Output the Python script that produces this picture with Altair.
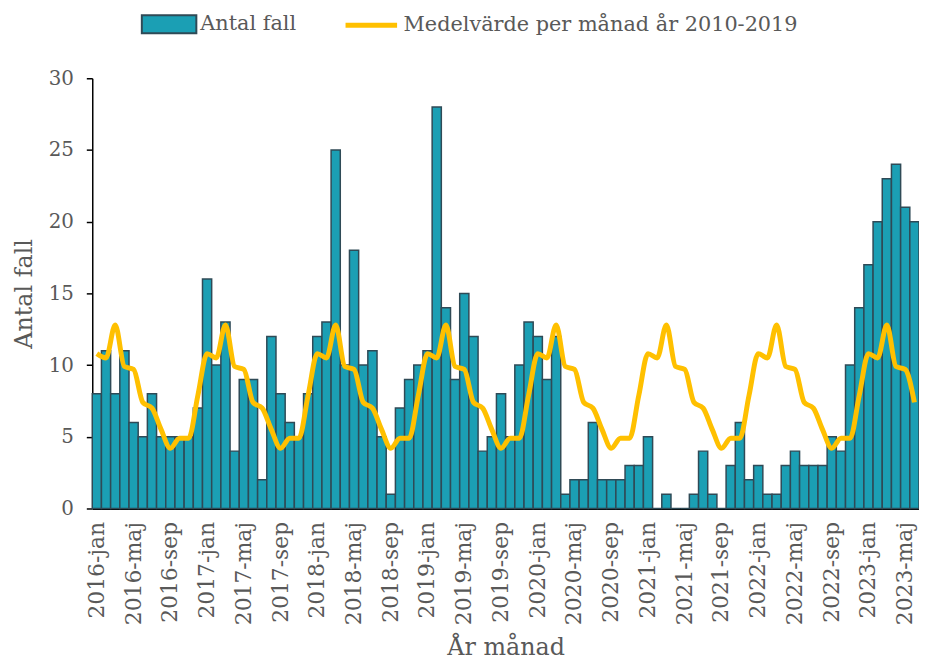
import altair as alt
import pandas as pd

years = [2016, 2017, 2018, 2019, 2020, 2021, 2022, 2023]
month_names = ["jan", "feb", "mar", "apr", "maj", "jun", "jul", "aug", "sep", "okt", "nov", "dec"]

cases = [
    8, 11, 8, 11, 6, 5, 8, 5, 5, 5, 5, 7,          # 2016
    16, 10, 13, 4, 9, 9, 2, 12, 8, 6, 5, 8,        # 2017
    12, 13, 25, 10, 18, 10, 11, 5, 1, 7, 9, 10,    # 2018
    11, 28, 14, 9, 15, 12, 4, 5, 8, 5, 10, 13,     # 2019
    12, 9, 12, 1, 2, 2, 6, 2, 2, 2, 3, 3,          # 2020
    5, 0, 1, 0, 0, 1, 4, 1, 0, 3, 6, 2,            # 2021
    3, 1, 1, 3, 4, 3, 3, 3, 5, 4, 10, 14,          # 2022
    17, 20, 23, 24, 21, 20,                        # 2023
]

# mean per calendar month 2010-2019 (jan..dec)
monthly_avg = [10.8, 10.5, 12.8, 9.9, 9.7, 7.4, 7.0, 5.5, 4.2, 4.9, 4.9, 7.9]

labels = [f"{y}-{m}" for y in years for m in month_names][: len(cases)]
avg_series = [monthly_avg[i % 12] for i in range(len(cases))]
tick_labels = [lab for i, lab in enumerate(labels) if i % 4 == 0]

S1 = "Antal fall"
S2 = "Medelvärde per månad år 2010-2019"

df = pd.DataFrame({"month": labels, "cases": cases, "avg": avg_series, "s1": S1, "s2": S2})

FONT = "DejaVu Serif"
GREY = "#595959"
TEAL = "#1B9FB4"
EDGE = "#2F4A56"
GOLD = "#FFC000"

shown = "[" + ",".join(f"'{t}'" for t in tick_labels) + "]"

x_axis = alt.Axis(
    labelExpr=f"indexof({shown}, datum.value) >= 0 ? datum.value : ''",
    labelAngle=-90,
    ticks=False,
    labelPadding=13,
    labelFontSize=22,
    labelOverlap=False,
    labelBound=False,
    labelFlush=False,
    domainColor="black",
    domainWidth=2,
    title="År månad",
    titleFontSize=24,
    titlePadding=11,
)
x_enc = alt.X(
    "month:N",
    sort=labels,
    scale=alt.Scale(paddingInner=0, paddingOuter=0),
    axis=x_axis,
)

y_axis = alt.Axis(
    values=[0, 5, 10, 15, 20, 25, 30],
    tickSize=6,
    tickColor="black",
    tickWidth=1.5,
    domainColor="black",
    domainWidth=1.5,
    labelPadding=13,
    labelFontSize=20,
    grid=False,
    title="Antal fall",
    titleFontSize=24,
    titlePadding=12,
)
y_scale = alt.Scale(domain=[0, 30], nice=False)

bars = alt.Chart(df).mark_bar(stroke=EDGE, strokeWidth=1.5).encode(
    x=x_enc,
    y=alt.Y("cases:Q", scale=y_scale, axis=y_axis),
    fill=alt.Fill(
        "s1:N",
        scale=alt.Scale(domain=[S1], range=[TEAL]),
        legend=alt.Legend(
            title=None,
            orient="none",
            legendX=49,
            legendY=-83,
            symbolType="M-1,-0.33H1V0.33H-1Z",
            symbolSize=3025,
            symbolStrokeColor=EDGE,
            symbolStrokeWidth=2,
            symbolFillColor=TEAL,
            labelFontSize=21,
            labelOffset=3,
            labelLimit=0,
        ),
    ),
)

line = alt.Chart(df).mark_line(strokeWidth=5, interpolate="monotone").encode(
    x=x_enc,
    y=alt.Y("avg:Q", scale=y_scale, axis=y_axis),
    stroke=alt.Stroke(
        "s2:N",
        scale=alt.Scale(domain=[S2], range=[GOLD]),
        legend=alt.Legend(
            title=None,
            orient="none",
            legendX=253,
            legendY=-82,
            symbolType="stroke",
            symbolSize=2704,
            symbolStrokeWidth=5,
            labelFontSize=21,
            labelOffset=4,
            labelLimit=0,
        ),
    ),
)

chart = (
    alt.layer(bars, line)
    .properties(
        width=834,
        height=434,
        autosize=alt.AutoSizeParams(type="none"),
        padding={"left": 85, "top": 68, "right": 0, "bottom": 156},
    )
    .configure_view(stroke=None)
    .configure_axis(
        labelFont=FONT,
        titleFont=FONT,
        labelColor=GREY,
        titleColor=GREY,
        titleFontWeight="normal",
    )
    .configure_legend(labelFont=FONT, labelColor=GREY, padding=0)
)

chart.save("out.html", embed_options={"renderer": "svg", "actions": False})
